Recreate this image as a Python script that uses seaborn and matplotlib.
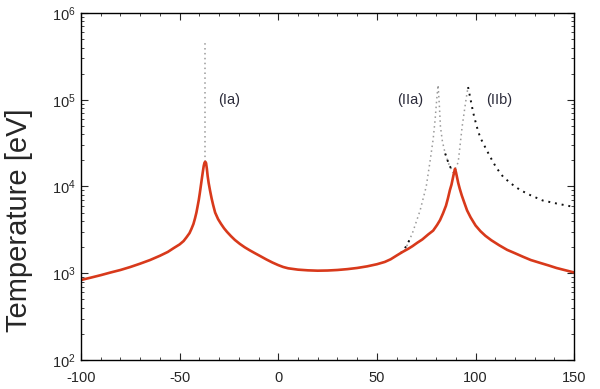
import numpy as np
import pandas as pd
import matplotlib
matplotlib.use("Agg")
import matplotlib.pyplot as plt
import seaborn as sns

# main temperature profile (red)
x_main = [-100, -95, -90, -85, -80, -75, -70, -65, -60, -56, -53, -50, -48, -46.5, -45, -44, -43,
          -42.2, -41.5, -40.9, -40.3, -39.8, -39.3, -38.7, -38.2, -37.8, -37.4, -37.0, -36.6,
          -36.2, -35.8, -35.3, -34.6, -33.8, -33.0, -32, -30.5, -29, -27.5, -26, -24, -22, -19.5,
          -17, -14.5, -12, -9, -6, -3, 0, 2.5, 5, 10, 15, 20, 25, 30, 35, 40, 45, 50, 54, 57,
          60, 63, 66, 68, 70.5, 73, 76, 78.5, 80.5, 82, 83.5, 85, 86, 87, 87.8, 88.5, 89.1, 89.6,
          90.1, 90.6, 91.2, 92.0, 93.0, 94.2, 95.7, 97.5, 100, 102.5, 105, 108, 112, 116, 120,
          124, 128, 133, 137, 141, 145, 150]
t_main = [836, 890, 950, 1020, 1090, 1180, 1290, 1420, 1590, 1760, 1950, 2150, 2350, 2600, 2900, 3250, 3700,
          4300, 5000, 5900, 7000, 8300, 10000, 12500, 15000, 17200, 18800, 19300, 18600,
          16000, 13200, 11000, 9000, 7300, 6100, 5000, 4200, 3700, 3300, 3000, 2680, 2420, 2180,
          1990, 1840, 1710, 1570, 1440, 1330, 1240, 1180, 1140, 1100, 1080, 1070, 1075, 1090, 1115, 1150, 1200, 1270, 1350, 1450,
          1600, 1760, 1920, 2050, 2250, 2450, 2800, 3100, 3600, 4100, 4900, 6000, 7300, 9100, 10500, 12500, 14500, 16000,
          14500, 12800, 11000, 9400, 7900, 6600, 5300, 4400, 3550, 3050, 2700, 2400, 2100, 1860, 1700,
          1550, 1420, 1310, 1230, 1150, 1090, 1020]

# (Ia) vertical dotted spike
x_ia = [-37.0, -37.0]
t_ia = [19000, 460000]

# (IIa) grey dotted branch
x_iia = [62, 64.3, 68, 71.9, 75, 77, 78.5, 79.5, 80.3, 81.0, 81.6, 82.2, 83.2, 84.6, 86.5, 88.6]
t_iia = [1700, 1860, 2900, 5300, 10000, 20000, 35000, 59000, 100000, 148000, 90000, 49000, 33000, 24000, 18000, 14500]

# (IIb) rising part (grey) and decaying tail (black)
x_iib_up = [89.7, 91.2, 93.2, 95.0, 95.7, 96.2]
t_iib_up = [16000, 19000, 49000, 95000, 120000, 140000]
x_iib = [62, 64, 66, 67.5]
t_iib = [1700, 1900, 2300, 2650]
x_iib_tail = [84.6, 86.5, 88.6]
t_iib_tail = [24000, 18000, 14500]
x_iib_down = [96.2, 97.5, 98.8, 100.5, 102.3, 105, 107.4, 110.5, 114, 118, 122.6, 128, 134, 142, 150]
t_iib_down = [140000, 100000, 71000, 50000, 37000, 28000, 22000, 16500, 12900, 10800, 9100, 7900, 6900, 6300, 5800]

sns.set_style("ticks")
plt.rcParams["font.family"] = ["Liberation Sans", "DejaVu Sans"]
plt.rcParams["axes.unicode_minus"] = False

fig = plt.figure(figsize=(6, 3.89), dpi=100)
ax = fig.add_axes([0.135, 0.0746, 0.822, 0.892])

dots = (0, (1, 2.2))
grey = "#9a9a9a"
sns.lineplot(x=x_ia, y=t_ia, ax=ax, color=grey, lw=1.1, ls=dots, estimator=None, sort=False)
sns.lineplot(x=x_iia, y=t_iia, ax=ax, color=grey, lw=1.1, ls=dots, estimator=None, sort=False)
sns.lineplot(x=x_iib_up, y=t_iib_up, ax=ax, color=grey, lw=1.1, ls=dots, estimator=None, sort=False)
sns.lineplot(x=x_iib, y=t_iib, ax=ax, color="#111111", lw=1.4, ls=(0, (1, 2.5)), estimator=None, sort=False)
sns.lineplot(x=x_iib_tail, y=t_iib_tail, ax=ax, color="#111111", lw=1.4, ls=(0, (1, 2.5)), estimator=None, sort=False)
sns.lineplot(x=x_iib_down, y=t_iib_down, ax=ax, color="#111111", lw=1.4, ls=(0, (1, 2.5)), estimator=None, sort=False)
sns.lineplot(x=x_main, y=t_main, ax=ax, color="#d8391b", lw=1.9, estimator=None, sort=False)
ax.lines[-1].set_solid_joinstyle("round")

ax.set_yscale("log")
ax.set_xlim(-100, 150)
ax.set_ylim(1e2, 1e6)
ax.set_xticks([-100, -50, 0, 50, 100, 150])
ax.xaxis.set_minor_locator(matplotlib.ticker.MultipleLocator(10))
ax.tick_params(which="both", direction="in", top=True, right=True, labelsize=10.5)
ax.tick_params(axis="x", which="major", pad=8)
ax.tick_params(axis="y", which="major", pad=4)
ax.tick_params(which="major", length=5, width=0.8)
ax.tick_params(which="minor", length=2.5, width=0.6)
for s in ax.spines.values():
    s.set_color("black")
    s.set_linewidth(1.0)

ax.set_xlabel("")
ax.set_ylabel("Temperature [eV]", fontsize=21)
ax.yaxis.set_label_coords(-0.098, 0.403)

lab = "#2b2b3a"
ax.text(-30.5, 1e5, "(Ia)", fontsize=10.5, va="center", ha="left", color=lab)
ax.text(60.2, 1e5, "(IIa)", fontsize=10.5, va="center", ha="left", color=lab)
ax.text(105.4, 1e5, "(IIb)", fontsize=10.5, va="center", ha="left", color=lab)

fig.savefig("out.png", dpi=100)
